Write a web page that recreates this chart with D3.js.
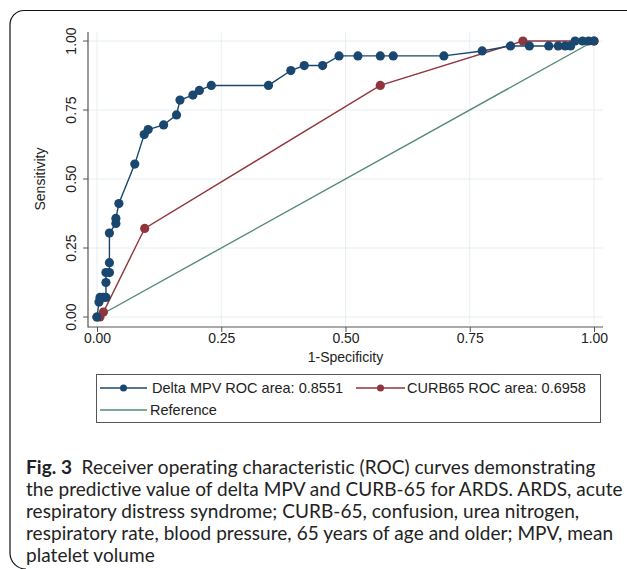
<!DOCTYPE html>
<meta charset="utf-8">
<style>
body { margin: 0; background: #fff; }
.axis text { font: 14px "Liberation Sans", Arial, sans-serif; fill: #222; }
.lab { font: 14px "Liberation Sans", Arial, sans-serif; fill: #222; }
.leg { font: 14.5px "Liberation Sans", Arial, sans-serif; fill: #222; }
.cap { font: 19px Lato, "Open Sans", sans-serif; fill: #222; letter-spacing: 0.05px; }
</style>
<svg width="627" height="569"></svg>
<script src="https://d3js.org/d3.v7.min.js"></script>
<script>

// ROC points: [1-specificity, sensitivity]
var mpvPoints = [[0,0],[0.004,0.054],[0.006,0.071],[0.012,0.071],[0.018,0.071],[0.018,0.125],
  [0.018,0.161],[0.025,0.161],[0.025,0.197],[0.025,0.304],[0.038,0.339],[0.038,0.357],
  [0.044,0.411],[0.076,0.554],[0.095,0.661],[0.103,0.679],[0.134,0.696],[0.160,0.732],
  [0.167,0.786],[0.193,0.804],[0.206,0.821],[0.230,0.839],[0.345,0.839],[0.390,0.893],
  [0.417,0.911],[0.454,0.911],[0.487,0.946],[0.525,0.946],[0.570,0.946],[0.596,0.946],
  [0.698,0.946],[0.775,0.964],[0.832,0.982],[0.870,0.982],[0.909,0.982],[0.928,0.982],
  [0.942,0.982],[0.953,0.982],[0.962,1],[0.977,1],[0.989,1],[1,1]];
var curbPoints = [[0,0],[0.006,0],[0.013,0.018],[0.096,0.321],[0.570,0.839],[0.857,1],[1,1]];
var refPoints = [[0,0],[1,1]];

var ticks = [0, 0.25, 0.5, 0.75, 1];
var legendLabels = ["Delta MPV ROC area: 0.8551", "CURB65 ROC area: 0.6958", "Reference"];
var captionBold = "Fig. 3";
var captionLines = [
  "Receiver operating characteristic (ROC) curves demonstrating",
  "the predictive value of delta MPV and CURB-65 for ARDS. ARDS, acute",
  "respiratory distress syndrome; CURB-65, confusion, urea nitrogen,",
  "respiratory rate, blood pressure, 65 years of age and older; MPV, mean",
  "platelet volume"
];

var navy = "#1a476f", maroon = "#90353b", green = "#55897a";

var svg = d3.select("svg");

// outer frame (top + left, rounded corners)
svg.append("path")
  .attr("d", "M627,10.5 H24 A14,14 0 0 0 10,24.5 V553 A16,16 0 0 0 26,569")
  .attr("fill", "none").attr("stroke", "#111").attr("stroke-width", 1.2);

var plot = {left: 88, right: 603, top: 32, bottom: 327};

var x = d3.scaleLinear().domain([0, 1]).range([97, 594]);
var y = d3.scaleLinear().domain([0, 1]).range([317, 41]);

// grid
var g = svg.append("g");
g.selectAll(".gx").data(ticks).enter().append("line")
  .attr("x1", d => x(d)).attr("x2", d => x(d))
  .attr("y1", plot.top).attr("y2", plot.bottom)
  .attr("stroke", "#e7eef1").attr("stroke-width", 1);
g.selectAll(".gy").data(ticks).enter().append("line")
  .attr("x1", plot.left).attr("x2", plot.right)
  .attr("y1", d => y(d)).attr("y2", d => y(d))
  .attr("stroke", "#e7eef1").attr("stroke-width", 1);

// axes
var yAxis = svg.append("g").attr("class", "axis")
  .attr("transform", "translate(" + plot.left + ",0)")
  .call(d3.axisLeft(y).tickValues(ticks).tickFormat(d3.format(".2f")).tickSize(5));
yAxis.select(".domain").remove();
yAxis.selectAll("line").attr("stroke", "#555");
yAxis.selectAll("text")
  .attr("transform", d => "translate(-12," + y(d) + ") rotate(-90)")
  .attr("x", 0).attr("y", 0).attr("dy", 0)
  .attr("text-anchor", "middle");
yAxis.selectAll(".tick").attr("transform", null);
yAxis.selectAll(".tick line").attr("y1", d => y(d)).attr("y2", d => y(d));

var xAxis = svg.append("g").attr("class", "axis")
  .attr("transform", "translate(0," + plot.bottom + ")")
  .call(d3.axisBottom(x).tickValues(ticks).tickFormat(d3.format(".2f")).tickSize(5));
xAxis.select(".domain").remove();
xAxis.selectAll("line").attr("stroke", "#555");
xAxis.selectAll("text").attr("y", 6).attr("dy", "0.71em");

svg.append("line").attr("x1", plot.left).attr("x2", plot.left)
  .attr("y1", plot.top).attr("y2", plot.bottom + 0.5)
  .attr("stroke", "#555").attr("stroke-width", 1.2);
svg.append("line").attr("x1", plot.left).attr("x2", plot.right)
  .attr("y1", plot.bottom).attr("y2", plot.bottom)
  .attr("stroke", "#555").attr("stroke-width", 1.2);

svg.append("text").attr("class", "lab")
  .attr("transform", "translate(45," + y(0.5) + ") rotate(-90)")
  .attr("text-anchor", "middle").text("Sensitivity");
svg.append("text").attr("class", "lab")
  .attr("x", x(0.5)).attr("y", 362)
  .attr("text-anchor", "middle").text("1-Specificity");

// curves
var line = d3.line().x(d => x(d[0])).y(d => y(d[1]));

svg.append("path").datum(refPoints).attr("d", line)
  .attr("fill", "none").attr("stroke", green).attr("stroke-width", 1.4);

svg.append("path").datum(curbPoints).attr("d", line)
  .attr("fill", "none").attr("stroke", maroon).attr("stroke-width", 1.4);
svg.selectAll(".cm").data(curbPoints).enter().append("circle")
  .attr("cx", d => x(d[0])).attr("cy", d => y(d[1])).attr("r", 4.6)
  .attr("fill", maroon);

svg.append("path").datum(mpvPoints).attr("d", line)
  .attr("fill", "none").attr("stroke", navy).attr("stroke-width", 1.4);
svg.selectAll(".mm").data(mpvPoints).enter().append("circle")
  .attr("cx", d => x(d[0])).attr("cy", d => y(d[1])).attr("r", 4.6)
  .attr("fill", navy);

// legend
var lg = svg.append("g");
lg.append("rect").attr("x", 96.5).attr("y", 374.5).attr("width", 504).attr("height", 48)
  .attr("fill", "#fff").attr("stroke", "#555").attr("stroke-width", 1);
var keys = [
  {x0: 100, x1: 147, tx: 152, cy: 388, color: navy, marker: true},
  {x0: 356, x1: 405, tx: 407, cy: 388, color: maroon, marker: true},
  {x0: 100, x1: 147, tx: 150, cy: 410, color: green, marker: false}
];
keys.forEach(function(k, i) {
  lg.append("line").attr("x1", k.x0).attr("x2", k.x1).attr("y1", k.cy).attr("y2", k.cy)
    .attr("stroke", k.color).attr("stroke-width", 1.4);
  if (k.marker) lg.append("circle").attr("cx", (k.x0 + k.x1) / 2).attr("cy", k.cy)
    .attr("r", 3.5).attr("fill", k.color);
  lg.append("text").attr("class", "leg").attr("x", k.tx).attr("y", k.cy + 5)
    .text(legendLabels[i]);
});

// caption
var cap = svg.append("text").attr("class", "cap");
captionLines.forEach(function(s, i) {
  var t = cap.append("tspan").attr("x", 26).attr("y", 474 + i * 22);
  if (i === 0) {
    t.append("tspan").attr("font-weight", "bold").text(captionBold);
    t.append("tspan").text("\u2002" + s);
  } else {
    t.text(s);
  }
});

</script>
